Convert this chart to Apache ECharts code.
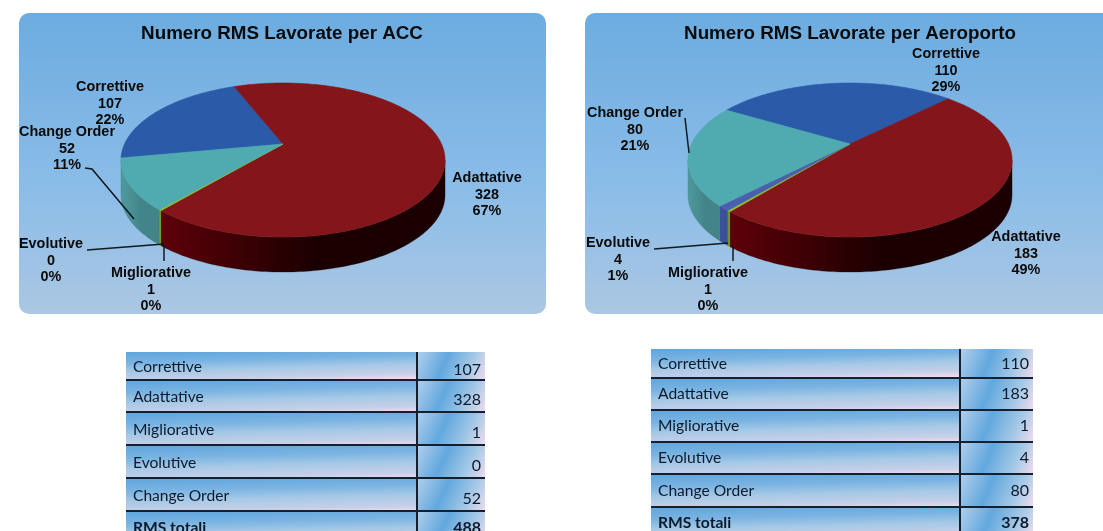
<!DOCTYPE html>
<html>
<head>
<meta charset="utf-8">
<style>
  html, body { margin: 0; padding: 0; background: #fff; overflow: hidden; }
  #main { width: 1103px; height: 531px; filter: blur(0.4px); }
</style>
<script src="https://cdn.jsdelivr.net/npm/echarts@6/dist/echarts.min.js"></script>
</head>
<body>
<div id="main"></div>
<script>
// dati
var categories = ['Correttive', 'Adattative', 'Migliorative', 'Evolutive', 'Change Order'];
var accValues = [107, 328, 1, 0, 52];
var accPercents = ['22%', '67%', '0%', '0%', '11%'];
var accTotal = 488;
var aeroValues = [110, 183, 1, 4, 80];
var aeroPercents = ['29%', '49%', '0%', '1%', '21%'];
var aeroTotal = 378;
var totalLabel = 'RMS totali';
var titles = ['Numero RMS Lavorate per ACC', 'Numero RMS Lavorate per Aeroporto'];

// stile delle fette, stesso ordine di categories
var topColors = ['#2b5ba8', '#84151a', '#8fc02e', '#4a5fae', '#4fabaf'];
var sideColors = [
  ['#1f4480', '#1f4480'],
  ['#5e0009', '#1a0000'],
  ['#6f9a20', '#6f9a20'],
  ['#3d4f9a', '#3d4f9a'],
  ['#4f9a9e', '#428488']
];

// geometria della torta in prospettiva
var persp = 0.208, radiusX = 158.5, radiusY = 73.7, depth = 35;
var frontAngle = Math.acos(-persp) * 180 / Math.PI;
var labelLine = 16.6;

// labels: centro della prima riga di ogni etichetta
var pieAcc = {
  cx: 283, cy: 144, start: -100.5,
  labels: [[110, 87], [487, 178], [151, 273], [51, 244], [67, 132]],
  leaders: [
    [[85, 168], [92, 169], [134, 219]],
    [[87, 250], [164, 244]],
    [[164, 245], [164, 261]]
  ]
};
var pieAero = {
  cx: 850, cy: 144, start: -59.5,
  labels: [[946, 54], [1026, 237], [708, 273], [618, 243], [635, 113]],
  leaders: [
    [[685, 118], [689, 153]],
    [[654, 249], [728, 243]],
    [[733, 246], [733, 261]]
  ]
};

var tableAcc = { x: 126, split: 417, right: 485, lines: [352, 380, 412, 445, 478, 511, 544], labelDy: 1, valueDy: 4 };
var tableAero = { x: 651, split: 960, right: 1033, lines: [349, 378, 410, 442, 474, 507, 539], labelDy: 0, valueDy: 0 };

function project(pie, deg) {
  var a = deg * Math.PI / 180;
  var u = Math.sin(a), v = Math.cos(a), w = 1 + persp * v;
  return [pie.cx + radiusX * u / w, pie.cy - radiusY * v / w];
}

function arcPoints(pie, from, to, dy) {
  var pts = [];
  for (var d = from; d < to; d += 1) {
    var p = project(pie, d);
    pts.push([p[0], p[1] + dy]);
  }
  var last = project(pie, to);
  pts.push([last[0], last[1] + dy]);
  return pts;
}

function pieRender(pie, values, percents) {
  var total = values.reduce(function (s, v) { return s + v; }, 0);
  return function (params) {
    if (params.dataIndex > 0) return;
    var sides = [], tops = [], texts = [];
    var angle = pie.start;
    values.forEach(function (val, i) {
      var end = angle + val / total * 360;
      if (val > 0) {
        var from = Math.max(angle, frontAngle), to = Math.min(end, 360 - frontAngle);
        if (to > from) {
          var upper = arcPoints(pie, from, to, 0);
          var lower = arcPoints(pie, from, to, depth).reverse();
          sides.push({
            type: 'polygon',
            shape: { points: upper.concat(lower) },
            style: {
              fill: new echarts.graphic.LinearGradient(0, 0, 1, 0, [
                { offset: 0, color: sideColors[i][0] },
                { offset: 0.55, color: sideColors[i][1] },
                { offset: 1, color: sideColors[i][1] }
              ]),
              stroke: sideColors[i][1],
              lineWidth: 0.3
            }
          });
        }
        tops.push({
          type: 'polygon',
          shape: { points: [[pie.cx, pie.cy]].concat(arcPoints(pie, angle, end, 0)) },
          style: { fill: topColors[i], stroke: topColors[i], lineWidth: 0.6 }
        });
      }
      angle = end;
    });
    categories.forEach(function (name, i) {
      texts.push({
        type: 'text',
        x: pie.labels[i][0],
        y: pie.labels[i][1] + labelLine,
        style: {
          text: name + '\n' + values[i] + '\n' + percents[i],
          fill: '#0a0a0a',
          font: 'bold 14.4px "Liberation Sans", Arial, sans-serif',
          lineHeight: labelLine,
          align: 'center',
          verticalAlign: 'middle'
        }
      });
    });
    var lines = pie.leaders.map(function (pts) {
      return {
        type: 'polyline',
        shape: { points: pts },
        style: { stroke: '#101820', lineWidth: 1.5, fill: null }
      };
    });
    return { type: 'group', children: sides.concat(tops, lines, texts) };
  };
}

function labelCellFill(x, y, h) {
  return new echarts.graphic.LinearGradient(x, y, x + 1, y + h * 1.3, [
    { offset: 0, color: '#5fa5dd' },
    { offset: 0.3, color: '#79b3e2' },
    { offset: 0.55, color: '#a6c9e6' },
    { offset: 0.8, color: '#c6cfe8' },
    { offset: 0.95, color: '#f3dcee' }
  ], true);
}

function valueCellFill(x, y, w, h) {
  return new echarts.graphic.LinearGradient(x, y, x + w, y + h, [
    { offset: 0, color: '#b3cfec' },
    { offset: 0.4, color: '#62a8de' },
    { offset: 0.75, color: '#a6c9e6' },
    { offset: 1, color: '#f0dcee' }
  ], true);
}

function tableRender(table, values, total) {
  var names = categories.concat([totalLabel]);
  var vals = values.concat([total]);
  return function (params) {
    if (params.dataIndex > 0) return;
    var kids = [];
    names.forEach(function (name, i) {
      var y = table.lines[i], h = table.lines[i + 1] - y;
      var bold = i === names.length - 1;
      kids.push({
        type: 'rect',
        shape: { x: table.x, y: y, width: table.split - table.x, height: h },
        style: { fill: labelCellFill(table.x, y, h) }
      });
      kids.push({
        type: 'rect',
        shape: { x: table.split, y: y, width: table.right - table.split, height: h },
        style: { fill: valueCellFill(table.split, y, table.right - table.split, h) }
      });
      kids.push({
        type: 'text', x: table.x + 7, y: y + h / 2 + (bold ? 0 : table.labelDy),
        style: {
          text: name, fill: '#0c1a2c', align: 'left', verticalAlign: 'middle',
          font: (bold ? 'bold ' : '') + '15.6px Lato, "Open Sans", sans-serif'
        }
      });
      kids.push({
        type: 'text', x: table.right - 4, y: y + h / 2 + (bold ? 0 : table.valueDy),
        style: {
          text: String(vals[i]), fill: '#0c1a2c', align: 'right', verticalAlign: 'middle',
          font: (bold ? 'bold ' : '') + '16px Lato, "Open Sans", sans-serif'
        }
      });
      if (i > 0) {
        kids.push({
          type: 'line',
          shape: { x1: table.x, y1: y, x2: table.right, y2: y },
          style: { stroke: '#14202e', lineWidth: 2 }
        });
      }
    });
    kids.push({
      type: 'line',
      shape: { x1: table.split, y1: table.lines[0], x2: table.split, y2: 531 },
      style: { stroke: '#14202e', lineWidth: 2 }
    });
    return { type: 'group', children: kids };
  };
}

function panel(x, y, w, h) {
  return {
    type: 'rect',
    z: 0,
    shape: { x: x, y: y, width: w, height: h, r: 10 },
    style: {
      fill: new echarts.graphic.LinearGradient(0, 0, 0, 1, [
        { offset: 0, color: '#6cace0' },
        { offset: 0.6, color: '#8cbde8' },
        { offset: 1, color: '#abc7e3' }
      ])
    }
  };
}

function chartTitle(text, center) {
  return {
    text: text, left: center, top: 24, padding: 0, textAlign: 'center',
    textStyle: { fontFamily: '"Liberation Sans", Arial, sans-serif', fontWeight: 'bold', fontSize: 18.8, color: '#0a0a0a' }
  };
}

function customSeries(render) {
  return { type: 'custom', coordinateSystem: 'none', silent: true, data: [0], renderItem: render };
}

var chart = echarts.init(document.getElementById('main'), null, { renderer: 'canvas' });
chart.setOption({
  animation: false,
  backgroundColor: '#fff',
  title: [chartTitle(titles[0], 282), chartTitle(titles[1], 850)],
  graphic: [panel(19, 13, 527, 301), panel(585, 13, 540, 301)],
  series: [
    customSeries(pieRender(pieAcc, accValues, accPercents)),
    customSeries(pieRender(pieAero, aeroValues, aeroPercents)),
    customSeries(tableRender(tableAcc, accValues, accTotal)),
    customSeries(tableRender(tableAero, aeroValues, aeroTotal))
  ]
});
</script>
</body>
</html>
